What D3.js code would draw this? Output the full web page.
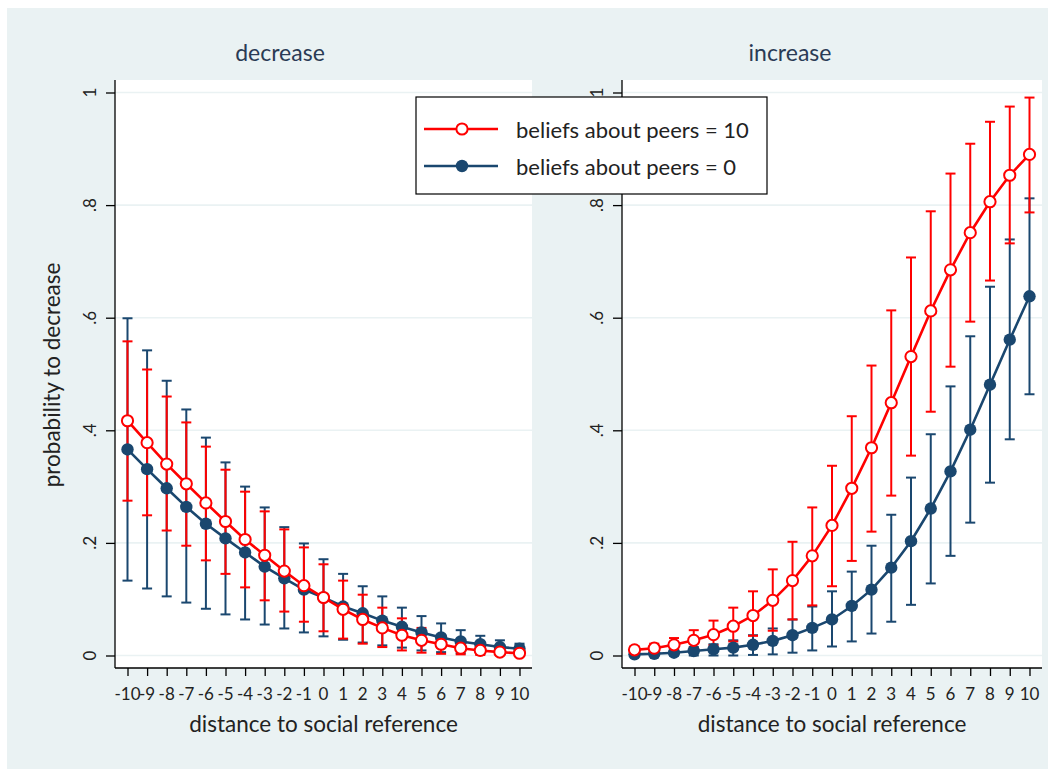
<!DOCTYPE html>
<html lang="en">
<head>
  <meta charset="UTF-8">
  <title>Probability to decrease / increase</title>
  <script src="https://d3js.org/d3.v7.min.js"></script>
  <style>
    body { margin: 0; background: #fff; }
    text { font-family: Lato, "Open Sans", sans-serif; fill: #222; }
  </style>
</head>
<body>
  <script>
    // distance to social reference
    const distances = d3.range(-10, 11);
    const yTicks = [0, 0.2, 0.4, 0.6, 0.8, 1];
    const yTickLabels = ["0", ".2", ".4", ".6", ".8", "1"];
    const seriesNames = ["beliefs about peers = 10", "beliefs about peers = 0"];
    const panelTitles = ["decrease", "increase"];

    // decrease panel
    const decHigh = [0.417, 0.378, 0.340, 0.305, 0.271, 0.238, 0.206, 0.178, 0.150, 0.124, 0.103, 0.082, 0.064, 0.049, 0.036, 0.027, 0.020, 0.013, 0.009, 0.006, 0.004];
    const decHighLo = [0.275, 0.249, 0.222, 0.195, 0.169, 0.145, 0.121, 0.098, 0.078, 0.060, 0.043, 0.030, 0.021, 0.015, 0.009, 0.005, 0.003, 0.002, 0.001, 0.001, 0.000];
    const decHighHi = [0.558, 0.508, 0.460, 0.414, 0.371, 0.330, 0.291, 0.256, 0.224, 0.192, 0.162, 0.133, 0.108, 0.085, 0.066, 0.049, 0.036, 0.025, 0.018, 0.012, 0.008];
    const decLow = [0.366, 0.331, 0.297, 0.264, 0.234, 0.208, 0.183, 0.158, 0.137, 0.117, 0.103, 0.087, 0.075, 0.062, 0.051, 0.041, 0.032, 0.025, 0.020, 0.015, 0.012];
    const decLowLo = [0.133, 0.119, 0.105, 0.094, 0.083, 0.073, 0.064, 0.055, 0.048, 0.041, 0.034, 0.028, 0.023, 0.018, 0.014, 0.009, 0.006, 0.004, 0.003, 0.002, 0.001];
    const decLowHi = [0.599, 0.542, 0.488, 0.437, 0.387, 0.343, 0.300, 0.263, 0.228, 0.199, 0.171, 0.145, 0.123, 0.105, 0.085, 0.070, 0.057, 0.045, 0.035, 0.027, 0.021];

    // increase panel
    const incHigh = [0.010, 0.013, 0.019, 0.027, 0.037, 0.052, 0.071, 0.098, 0.133, 0.177, 0.231, 0.297, 0.369, 0.449, 0.531, 0.612, 0.685, 0.751, 0.806, 0.853, 0.890];
    const incHighLo = [0.004, 0.006, 0.009, 0.013, 0.018, 0.025, 0.035, 0.044, 0.064, 0.089, 0.123, 0.168, 0.220, 0.284, 0.355, 0.433, 0.513, 0.593, 0.666, 0.732, 0.787];
    const incHighHi = [0.016, 0.021, 0.031, 0.045, 0.062, 0.085, 0.114, 0.153, 0.202, 0.263, 0.337, 0.425, 0.515, 0.613, 0.707, 0.789, 0.856, 0.909, 0.948, 0.975, 0.991];
    const incLow = [0.002, 0.003, 0.005, 0.008, 0.011, 0.014, 0.019, 0.026, 0.036, 0.049, 0.064, 0.088, 0.117, 0.156, 0.203, 0.261, 0.327, 0.401, 0.481, 0.561, 0.638];
    const incLowLo = [0.000, 0.000, 0.000, 0.000, 0.000, 0.000, 0.001, 0.002, 0.005, 0.009, 0.016, 0.025, 0.039, 0.060, 0.090, 0.128, 0.177, 0.236, 0.307, 0.384, 0.464];
    const incLowHi = [0.005, 0.007, 0.010, 0.015, 0.020, 0.027, 0.036, 0.048, 0.064, 0.087, 0.114, 0.149, 0.195, 0.250, 0.316, 0.393, 0.478, 0.567, 0.655, 0.739, 0.812];

    const red = "#ff0000";
    const navy = "#1a476f";
    const bg = "#eaf2f3";

    const svg = d3.select("body")
      .append("svg")
      .attr("width", 1055)
      .attr("height", 772);

    svg.append("rect")
      .attr("x", 7).attr("y", 8)
      .attr("width", 1041).attr("height", 761)
      .attr("fill", bg);

    const plotTop = 80, plotBottom = 668;
    const y = d3.scaleLinear().domain([0, 1]).range([655.5, 92.5]);

    const makePanel = (left, right, titleX, title, series, showYTitle) => {
      const x = d3.scaleLinear().domain([-10, 10]).range([left + 12.5, right - 12.5]);
      const g = svg.append("g");

      g.append("rect")
        .attr("x", left).attr("y", plotTop)
        .attr("width", right - left).attr("height", plotBottom - plotTop)
        .attr("fill", "#fff");

      // grid
      g.selectAll(".grid")
        .data(yTicks)
        .enter().append("line")
        .attr("x1", left).attr("x2", right)
        .attr("y1", d => y(d)).attr("y2", d => y(d))
        .attr("stroke", bg)
        .attr("stroke-width", 1.6);

      // y axis
      const yAxis = g.append("g")
        .attr("transform", `translate(${left},0)`)
        .call(d3.axisLeft(y).tickValues(yTicks).tickSize(9).tickFormat(""));
      yAxis.select(".domain").attr("d", `M0,${plotTop}V${plotBottom}`);
      yAxis.selectAll("line, path").attr("stroke", "#000").attr("stroke-width", 1.3);

      g.selectAll(".ylab")
        .data(yTicks)
        .enter().append("text")
        .attr("transform", d => `translate(${left - 19},${y(d)}) rotate(-90)`)
        .attr("text-anchor", "middle")
        .style("font-size", "17px")
        .text((d, i) => yTickLabels[i]);

      // x axis
      const xAxis = g.append("g")
        .attr("transform", `translate(0,${plotBottom})`)
        .call(d3.axisBottom(x).tickValues(distances).tickSize(8).tickFormat(""));
      xAxis.select(".domain").attr("d", `M${left},0H${right}`);
      xAxis.selectAll("line, path").attr("stroke", "#000").attr("stroke-width", 1.3);

      g.selectAll(".xlab")
        .data(distances)
        .enter().append("text")
        .attr("x", d => x(d))
        .attr("y", 700)
        .attr("text-anchor", "middle")
        .style("font-size", "17px")
        .text(d => d);

      g.append("text")
        .attr("x", (left + right) / 2)
        .attr("y", 732)
        .attr("text-anchor", "middle")
        .style("font-size", "22.5px")
        .text("distance to social reference");

      g.append("text")
        .attr("x", titleX)
        .attr("y", 61)
        .attr("text-anchor", "middle")
        .style("font-size", "23px")
        .style("fill", "#2a3b55")
        .text(title);

      if (showYTitle) {
        g.append("text")
          .attr("transform", `translate(60,${(plotTop + plotBottom) / 2 + 1}) rotate(-90)`)
          .attr("text-anchor", "middle")
          .style("font-size", "22.5px")
          .text("probability to decrease");
      }

      // error bars: navy first, red on top
      const drawBars = (s) => {
        const bars = g.append("g").attr("stroke", s.color).attr("stroke-width", 2).attr("fill", "none");
        distances.forEach((d, i) => {
          bars.append("line")
            .attr("x1", x(d)).attr("x2", x(d))
            .attr("y1", y(s.lo[i])).attr("y2", y(s.hi[i]));
          [s.lo[i], s.hi[i]].forEach(v => {
            bars.append("line")
              .attr("x1", x(d) - 5).attr("x2", x(d) + 5)
              .attr("y1", y(v)).attr("y2", y(v));
          });
        });
      };
      drawBars(series[1]);
      drawBars(series[0]);

      const line = d3.line().x((d, i) => x(distances[i])).y(d => y(d));
      [series[1], series[0]].forEach(s => {
        g.append("path")
          .datum(s.values)
          .attr("d", line)
          .attr("fill", "none")
          .attr("stroke", s.color)
          .attr("stroke-width", 2.6);
        g.selectAll(null)
          .data(s.values)
          .enter().append("circle")
          .attr("cx", (d, i) => x(distances[i]))
          .attr("cy", d => y(d))
          .attr("r", s.hollow ? 5.6 : 6.2)
          .attr("fill", s.hollow ? "#fff" : s.color)
          .attr("stroke", s.hollow ? s.color : "none")
          .attr("stroke-width", 2);
      });
    };

    makePanel(115, 532, 280, panelTitles[0], [
      { values: decHigh, lo: decHighLo, hi: decHighHi, color: red, hollow: true },
      { values: decLow, lo: decLowLo, hi: decLowHi, color: navy, hollow: false }
    ], true);

    makePanel(622, 1042, 790, panelTitles[1], [
      { values: incHigh, lo: incHighLo, hi: incHighHi, color: red, hollow: true },
      { values: incLow, lo: incLowLo, hi: incLowHi, color: navy, hollow: false }
    ], false);

    // legend
    const legend = svg.append("g");
    legend.append("rect")
      .attr("x", 416).attr("y", 97)
      .attr("width", 351).attr("height", 97)
      .attr("fill", "#fff")
      .attr("stroke", "#000")
      .attr("stroke-width", 1.2);

    const legendItems = [
      { name: seriesNames[0], color: red, hollow: true, ly: 129 },
      { name: seriesNames[1], color: navy, hollow: false, ly: 166 }
    ];
    legendItems.forEach(it => {
      legend.append("line")
        .attr("x1", 424).attr("x2", 498)
        .attr("y1", it.ly).attr("y2", it.ly)
        .attr("stroke", it.color)
        .attr("stroke-width", 2.6);
      legend.append("circle")
        .attr("cx", 462).attr("cy", it.ly)
        .attr("r", it.hollow ? 5.6 : 6.2)
        .attr("fill", it.hollow ? "#fff" : it.color)
        .attr("stroke", it.hollow ? it.color : "none")
        .attr("stroke-width", 2);
      legend.append("text")
        .attr("x", 516)
        .attr("y", it.ly + 9)
        .style("font-size", "22px")
        .text(it.name);
    });
  </script>
</body>
</html>
